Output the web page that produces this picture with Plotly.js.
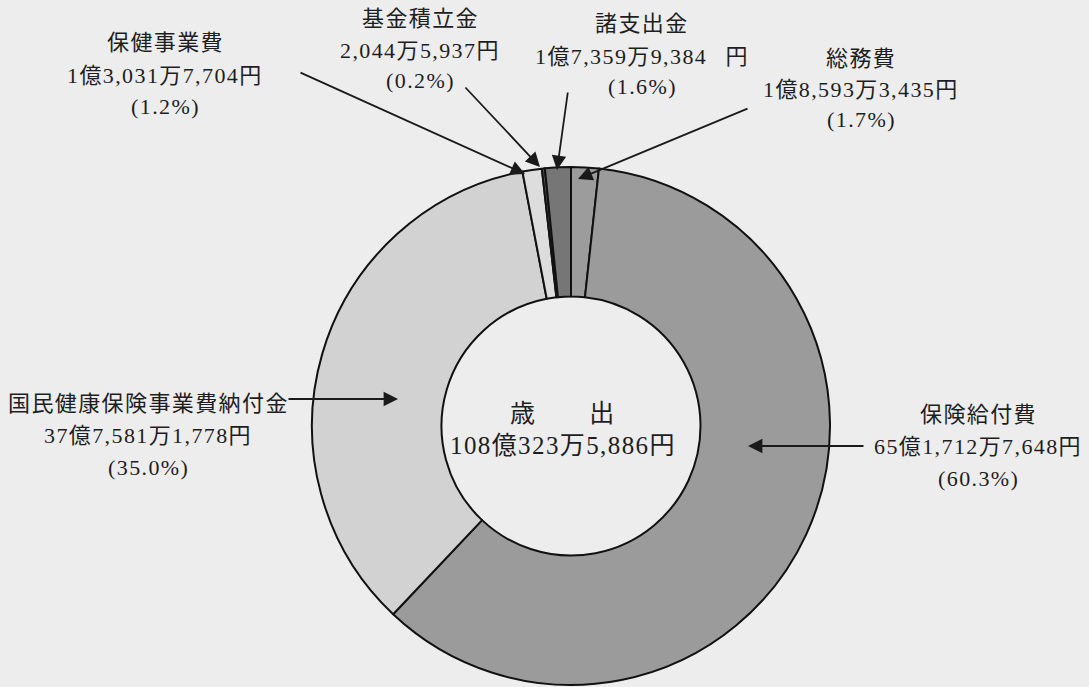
<!DOCTYPE html>
<html>
<head>
<meta charset="utf-8">
<script src="https://cdn.plot.ly/plotly-3.0.1.min.js"></script>
<style>
  html, body { margin: 0; padding: 0; background: #ededed; }
  #chart { width: 1089px; height: 687px; }
  .annotation-text { letter-spacing: 1.4px; }
</style>
</head>
<body>
<div id="chart"></div>
<script>
// ---- data (clockwise from 12 o'clock) ----
const categories = ['総務費', '保険給付費', '国民健康保険事業費納付金', '保健事業費', '基金積立金', '諸支出金'];
const amounts = [185933435, 6517127648, 3775811778, 130317704, 20445937, 173599384];
const amountLabels = ['1億8,593万3,435円', '65億1,712万7,648円', '37億7,581万1,778円', '1億3,031万7,704円', '2,044万5,937円', '1億7,359万9,384\u2002\u2009円'];
const shareLabels = ['(1.7%)', '(60.3%)', '(35.0%)', '(1.2%)', '(0.2%)', '(1.6%)'];
const centerTitle = '歳\u3000\u3000出';
const totalLabel = '108億323万5,886円';

// ---- styles / layout ----
const W = 1089, H = 687;
const sliceColors = ['#9c9c9c', '#9b9b9b', '#d2d2d2', '#dddddd', '#555555', '#767676'];
const FONT = '"Liberation Serif", "Noto Sans CJK JP", serif';
const TEXT_COLOR = '#1e1e1e';
const BG = '#ededed';

// label block positions (pixel centres) for each category
const labelPos = [
  {x: 861, ys: [58, 90, 120]},
  {x: 978, ys: [414, 446, 478]},
  {x: 148, ys: [403, 435, 467]},
  {x: 165, ys: [43, 75, 106]},
  {x: 420, ys: [19, 50, 81]},
  {x: 642, ys: [24, 57, 87]}
];
// arrows: tail -> head (pixels)
const arrowPos = [
  {tx: 749, ty: 108, hx: 578, hy: 179},
  {tx: 865, ty: 446, hx: 748, hy: 446},
  {tx: 287, ty: 399, hx: 398, hy: 399},
  {tx: 299, ty: 72, hx: 525, hy: 174},
  {tx: 464, ty: 86, hx: 540, hy: 167},
  {tx: 568, ty: 91, hx: 557, hy: 170}
];

const px = x => x / W;
const py = y => 1 - y / H;

const annotations = [];
categories.forEach((c, i) => {
  const lines = [c, amountLabels[i], shareLabels[i]];
  lines.forEach((t, j) => {
    annotations.push({
      xref: 'paper', yref: 'paper',
      x: px(labelPos[i].x), y: py(labelPos[i].ys[j]),
      xanchor: 'center', yanchor: 'middle',
      text: t, showarrow: false,
      font: {family: FONT, size: 22, color: TEXT_COLOR}
    });
  });
  const a = arrowPos[i];
  annotations.push({
    xref: 'paper', yref: 'paper',
    x: px(a.hx), y: py(a.hy),
    ax: a.tx - a.hx, ay: a.ty - a.hy,
    axref: 'pixel', ayref: 'pixel',
    text: '', showarrow: true,
    arrowhead: 2, arrowsize: 1.6, arrowwidth: 1.8, arrowcolor: '#1a1a1a',
    standoff: 0, startstandoff: 0
  });
});
// centre text
[[centerTitle, 413], [totalLabel, 445]].forEach(([t, y]) => {
  annotations.push({
    xref: 'paper', yref: 'paper',
    x: px(563), y: py(y),
    xanchor: 'center', yanchor: 'middle',
    text: t, showarrow: false,
    font: {family: FONT, size: 25, color: TEXT_COLOR}
  });
});

const trace = {
  type: 'pie',
  labels: categories,
  values: amounts,
  sort: false,
  direction: 'clockwise',
  rotation: 0,
  hole: 0.5,
  textinfo: 'none',
  hoverinfo: 'none',
  marker: {colors: sliceColors, line: {color: '#111111', width: 2}},
  domain: {x: [312 / W, 830 / W], y: [1 - 685 / H, 1 - 167 / H]},
  showlegend: false
};

const layout = {
  width: W, height: H,
  margin: {l: 0, r: 0, t: 0, b: 0},
  paper_bgcolor: BG,
  plot_bgcolor: BG,
  showlegend: false,
  annotations: annotations
};

Plotly.newPlot('chart', [trace], layout, {displayModeBar: false, staticPlot: true});
</script>
</body>
</html>
